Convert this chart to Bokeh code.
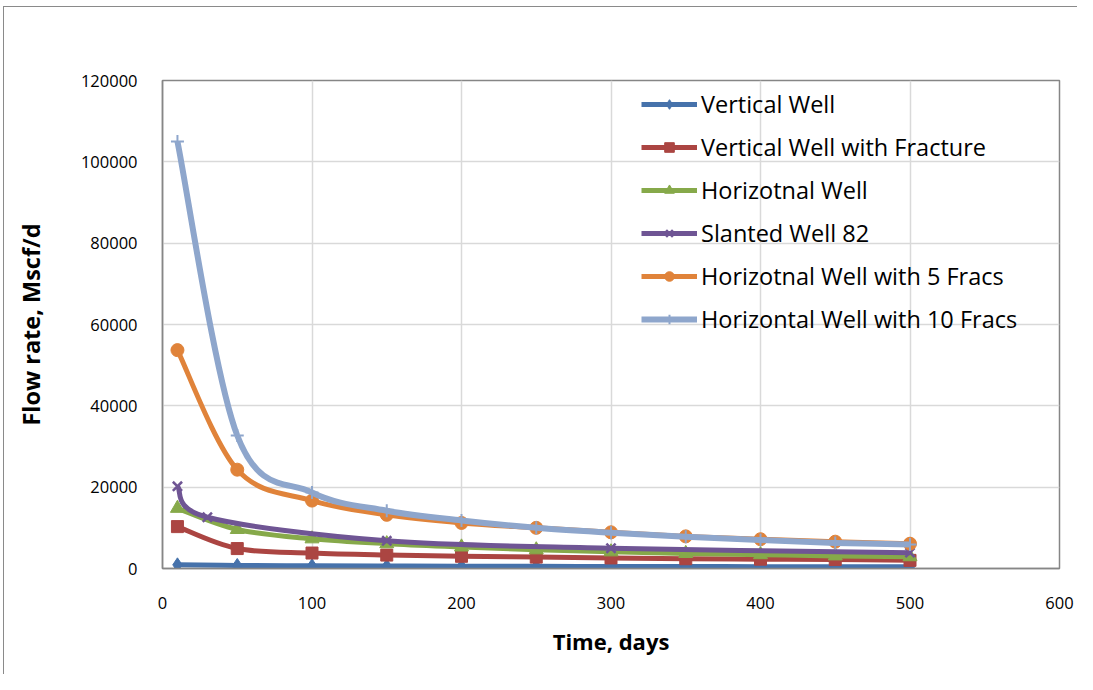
from bokeh.plotting import figure
from bokeh.models import Range1d, FixedTicker, NumeralTickFormatter, Legend, LegendItem, ColumnDataSource
from bokeh.embed import file_html
from bokeh.resources import INLINE

# ---- data ----
days = [10, 50, 100, 150, 200, 250, 300, 350, 400, 450, 500]
vertical_well = [900, 750, 650, 600, 560, 530, 500, 480, 460, 440, 420]
vertical_frac = [10300, 4900, 3800, 3300, 3000, 2800, 2600, 2400, 2300, 2200, 2000]
horizontal_well = [14800, 9600, 7300, 6100, 5300, 4600, 4100, 3700, 3400, 3100, 2900]
slanted_days = [10, 30, 150, 300, 500]
slanted_well = [20200, 12600, 6800, 5000, 3900]
horiz_5_fracs = [53700, 24300, 16700, 13200, 11200, 10000, 8900, 7900, 7200, 6600, 6100]
horiz_10_fracs = [105000, 32700, 18700, 14200, 11800, 10000, 8800, 7800, 7000, 6300, 5900]

series_names = ["Vertical Well", "Vertical Well with Fracture", "Horizotnal Well",
                "Slanted Well 82", "Horizotnal Well with 5 Fracs", "Horizontal Well with 10 Fracs"]
x_ticks = [0, 100, 200, 300, 400, 500, 600]
y_ticks = [0, 20000, 40000, 60000, 80000, 100000, 120000]

FONT = "Open Sans"
NAN = float("nan")


def bezier_source(xs, ys):
    """Excel-style smoothing: cubic Bezier control points from neighbouring data points."""
    n = len(xs)
    d = dict(x0=[], y0=[], x1=[], y1=[], cx0=[], cy0=[], cx1=[], cy1=[])
    for i in range(n - 1):
        xp, yp = (xs[i - 1], ys[i - 1]) if i > 0 else (xs[i], ys[i])
        xn, yn = (xs[i + 2], ys[i + 2]) if i + 2 < n else (xs[i + 1], ys[i + 1])
        d["x0"].append(xs[i]); d["y0"].append(ys[i])
        d["x1"].append(xs[i + 1]); d["y1"].append(ys[i + 1])
        d["cx0"].append(xs[i] + (xs[i + 1] - xp) / 6.0)
        d["cy0"].append(ys[i] + (ys[i + 1] - yp) / 6.0)
        d["cx1"].append(xs[i + 1] - (xn - xs[i]) / 6.0)
        d["cy1"].append(ys[i + 1] - (yn - ys[i]) / 6.0)
    return ColumnDataSource(d)


p = figure(width=1077, height=674, output_backend="svg", toolbar_location=None,
           x_range=Range1d(0, 600), y_range=Range1d(0, 120000),
           min_border_left=162, min_border_right=18, min_border_top=80, min_border_bottom=106)
p.outline_line_color = "#868686"
p.outline_line_width = 1.5
p.background_fill_color = "white"
p.border_fill_color = None
# outer chart-area border (top and left edges visible in the reference), drawn without
# affecting the layout
p.styles = {"background-color": "white",
            "box-shadow": "inset 3px 6px 0 0 #ffffff, inset 4px 7px 0 0 #8a8a8a"}

for ax in (p.xaxis[0], p.yaxis[0]):
    ax.axis_line_color = "#868686"
    ax.axis_line_width = 1.5
    ax.major_tick_line_color = None
    ax.minor_tick_line_color = None
    ax.major_label_text_font = FONT
    ax.major_label_text_font_size = "16.5px"
    ax.major_label_text_color = "black"
    ax.axis_label_text_font = FONT
    ax.axis_label_text_font_style = "bold"
    ax.axis_label_text_color = "black"

p.xaxis.axis_label_text_font_size = "22px"
p.yaxis.axis_label_text_font_size = "23.5px"
p.xaxis.ticker = FixedTicker(ticks=x_ticks)
p.yaxis.ticker = FixedTicker(ticks=y_ticks)
p.yaxis.formatter = NumeralTickFormatter(format="0")
p.xaxis.major_label_standoff = 22
p.yaxis.major_label_standoff = 19
p.xaxis.axis_label = "Time, days"
p.yaxis.axis_label = "Flow rate, Mscf/d"
p.xaxis.axis_label_standoff = 14
p.yaxis.axis_label_standoff = 31

p.xgrid.ticker = FixedTicker(ticks=x_ticks)
p.ygrid.ticker = FixedTicker(ticks=y_ticks)
p.grid.grid_line_color = "#d9d9d9"
p.grid.grid_line_width = 1.5

specs = [
    (days, vertical_well, "#4672ab", "diamond", 14, 5, 1, 11),
    (days, vertical_frac, "#ab4542", "square", 12, 5, 1, 10),
    (days, horizontal_well, "#86a94a", "triangle", 14, 5, 1, 11),
    (slanted_days, slanted_well, "#6f5594", "x", 13, 5, 2.5, 10),
    (days, horiz_5_fracs, "#e0833a", "circle", 13, 5, 1, 11),
    (days, horiz_10_fracs, "#8ea6cc", "cross", 13, 6, 2, 11),
]

items = []
for (xs, ys, color, marker, msize, lw, mlw, lsize), name in zip(specs, series_names):
    p.bezier(x0="x0", y0="y0", x1="x1", y1="y1", cx0="cx0", cy0="cy0", cx1="cx1", cy1="cy1",
             source=bezier_source(xs, ys), line_color=color, line_width=lw)
    p.scatter(xs, ys, marker=marker, size=msize, fill_color=color, line_color=color,
              line_width=mlw)
    leg_line = p.line([NAN], [NAN], line_color=color, line_width=lw)
    leg_mark = p.scatter([NAN], [NAN], marker=marker, size=lsize, fill_color=color,
                         line_color=color, line_width=mlw)
    items.append(LegendItem(label=name, renderers=[leg_line, leg_mark]))

legend = Legend(items=items, location=(479, 233))
legend.glyph_width = 56
legend.glyph_height = 24
legend.label_height = 24
legend.spacing = 11
legend.label_standoff = 4
legend.padding = 0
legend.margin = 0
legend.border_line_alpha = 0
legend.background_fill_alpha = 0
legend.label_text_font = FONT
legend.label_text_font_size = "23.5px"
legend.label_text_color = "black"
p.add_layout(legend)

open("out.html", "w").write(file_html(p, INLINE))
